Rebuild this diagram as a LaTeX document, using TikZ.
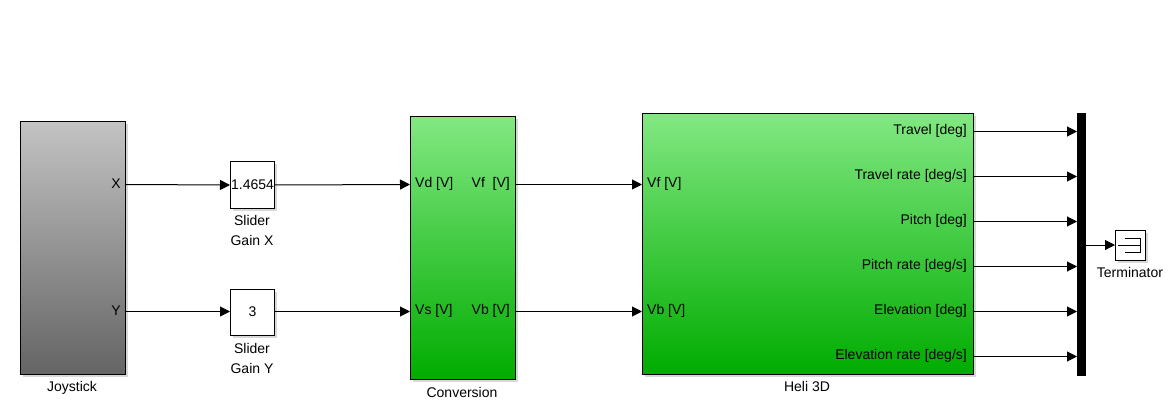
\documentclass[tikz,border=0pt]{standalone}
\usepackage{fontspec}
\setmainfont{Liberation Sans}
\usepackage{xcolor}
\usepackage{tikz}
\usetikzlibrary{arrows.meta, positioning, calc, shadows}

\definecolor{joytop}{RGB}{195,195,195}
\definecolor{joybot}{RGB}{100,100,100}
\definecolor{grntop}{RGB}{130,232,130}
\definecolor{grnbot}{RGB}{0,172,0}

\tikzset{
    blk/.style={draw=black, line width=1pt, anchor=north west, inner sep=0pt,
        drop shadow={shadow xshift=2.5pt, shadow yshift=-2.5pt, fill=black!30}},
    sig/.style={line width=1pt, -{Triangle[length=10pt, width=10pt]}},
    lbl/.style={font=\fontsize{14}{17}\selectfont, inner sep=0pt},
}

\begin{document}
\begin{tikzpicture}[x=1pt, y=-1pt]

    \useasboundingbox (0,0) rectangle (1176,401);

    % Joystick block
    \node[blk, top color=joytop, bottom color=joybot,
        minimum width=105pt, minimum height=253pt] (joy) at (20,121) {};
    \node[lbl] (joylbl) at (72,388) {Joystick};
    \node[lbl, anchor=east] (joyXt) at (121,184) {X};
    \node[lbl, anchor=east] (joyYt) at (121,311) {Y};
    \coordinate (joyX) at (125,184.5);
    \coordinate (joyY) at (125,311.5);

    % Slider gains
    \node[blk, fill=white, minimum width=44pt, minimum height=46pt] (gainx) at (230,161.5) {};
    \node[lbl] (gainxval) at (gainx.center) {1.4654};
    \node[lbl, align=center] (gainxlbl) at (252,230) {Slider\\[3pt]Gain X};
    \node[blk, fill=white, minimum width=44pt, minimum height=46pt] (gainy) at (230,288.5) {};
    \node[lbl] (gainyval) at (gainy.center) {3};
    \node[lbl, align=center] (gainylbl) at (252,358) {Slider\\[3pt]Gain Y};

    % Conversion block
    \node[blk, top color=grntop, bottom color=grnbot,
        minimum width=105pt, minimum height=263pt] (conv) at (410,116) {};
    \node[lbl] (convlbl) at (462,392) {Conversion};
    \node[lbl, anchor=west] (convVdt) at (415,184) {Vd [V]};
    \node[lbl, anchor=west] (convVst) at (415,311) {Vs [V]};
    \node[lbl, anchor=east] (convVft) at (510,184) {Vf\ \ [V]};
    \node[lbl, anchor=east] (convVbt) at (510,311) {Vb [V]};
    \coordinate (convVd) at (410,184.5);
    \coordinate (convVs) at (410,311.5);
    \coordinate (convVf) at (515,184.5);
    \coordinate (convVb) at (515,311.5);

    % Heli 3D block
    \node[blk, top color=grntop, bottom color=grnbot,
        minimum width=331pt, minimum height=261pt] (heli) at (642,113) {};
    \node[lbl] (helilbl) at (807,386) {Heli 3D};
    \node[lbl, anchor=west] (heliVft) at (647,184) {Vf [V]};
    \node[lbl, anchor=west] (heliVbt) at (647,311) {Vb [V]};
    \coordinate (heliVf) at (642,184.5);
    \coordinate (heliVb) at (642,311.5);

    % Bus and terminator
    \node[draw=black, fill=black, anchor=north west, inner sep=0pt,
        minimum width=8pt, minimum height=262pt] (bus) at (1077,113) {};
    \node[blk, fill=white, minimum width=30pt, minimum height=30pt] (term) at (1115,229.5) {};
    \draw[line width=1pt] ($(term.west)+(3,0)$) -- ++(22,0)
        ($(term.center)+(-6,-7)$) -- ++(16,0) -- ++(0,14) -- ++(-16,0);
    \node[lbl] (termlbl) at (1130,272) {Terminator};

    % Heli outputs into the bus
    \foreach \i/\y/\txt in {1/131/{Travel [deg]}, 2/176/{Travel rate [deg/s]},
        3/221/{Pitch [deg]}, 4/266/{Pitch rate [deg/s]},
        5/311/{Elevation [deg]}, 6/356/{Elevation rate [deg/s]}} {
        \node[lbl, anchor=east] (heliOut\i t) at (967,\y) {\txt};
        \coordinate (heliOut\i) at (973,\y+0.5);
        \draw[sig] (heliOut\i) -- (heliOut\i -| bus.west);
    }

    % Signals
    \draw[sig] (joyX) -- (gainx.west);
    \draw[sig] (joyY) -- (joyY -| gainy.west);
    \draw[sig] (gainx.east) -- (convVd);
    \draw[sig] (gainy.east |- convVs) -- (convVs);
    \draw[sig] (convVf) -- (heliVf);
    \draw[sig] (convVb) -- (heliVb);
    \draw[sig] (bus.east |- term.west) -- (term.west);

\end{tikzpicture}
\end{document}
